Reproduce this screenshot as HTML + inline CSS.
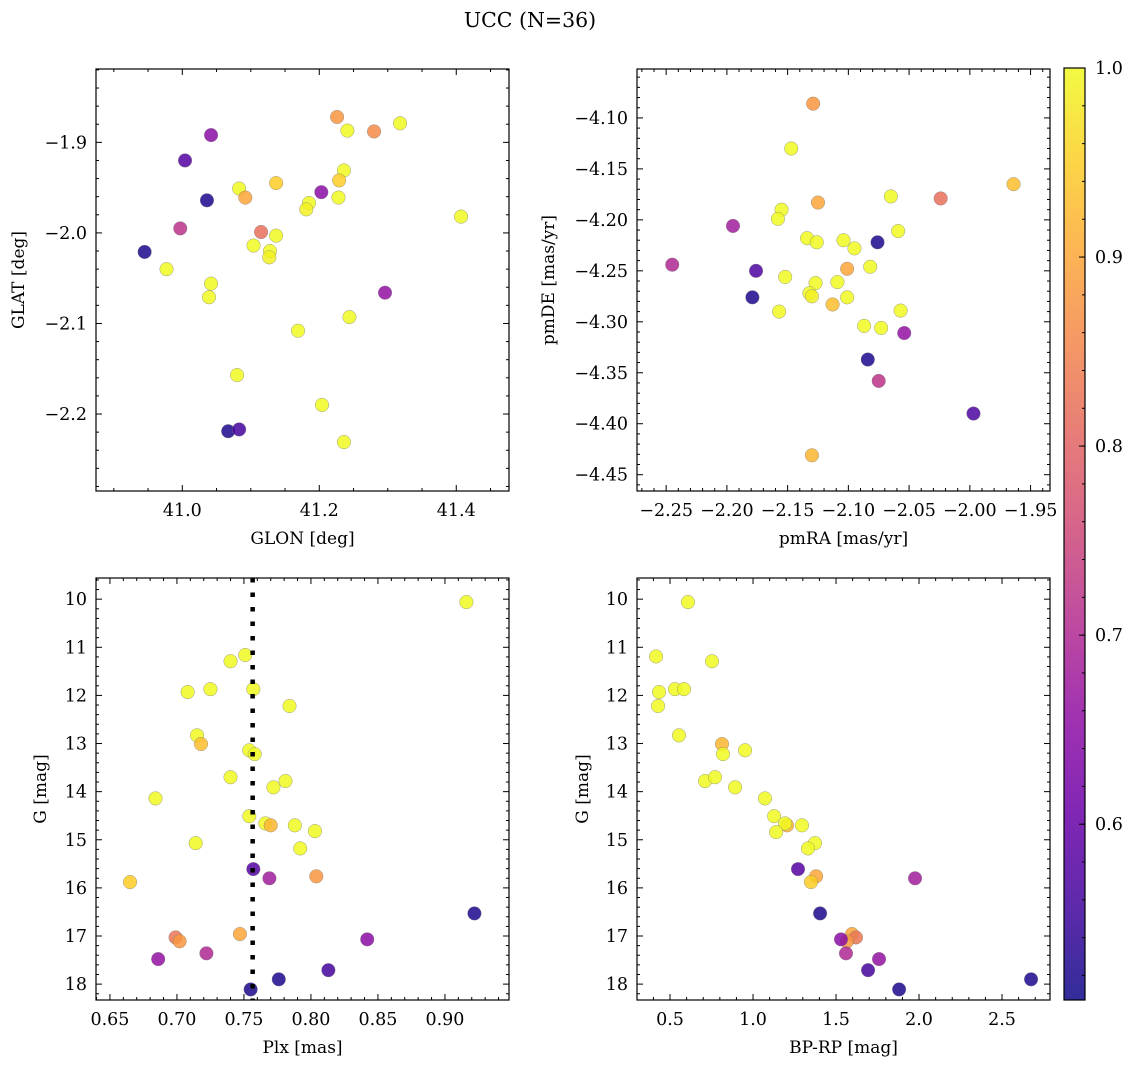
<!DOCTYPE html>
<html><head><meta charset="utf-8"><style>
html,body{margin:0;padding:0;background:#fff;}
svg{display:block;font-family:"DejaVu Serif","Liberation Serif",serif;}
</style></head><body>
<svg id="fig" width="1136" height="1068" viewBox="0 0 1136 1068" xmlns="http://www.w3.org/2000/svg">
<defs><linearGradient id="cbgrad" x1="0" y1="1" x2="0" y2="0"></linearGradient></defs>
<text x="530" y="27" font-size="20.5" text-anchor="middle">UCC (N=36)</text>
</svg>
<script>
// ---- data ----
const glon = [41.226,41.241,41.280,41.318,41.042,41.004,41.236,41.229,41.137,41.083,41.092,41.203,41.228,41.036,41.185,41.181,41.407,40.997,41.115,41.137,41.104,41.128,41.127,40.945,40.977,41.042,41.039,41.296,41.244,41.169,41.080,41.204,41.067,41.083,41.236];
const glat = [-1.872,-1.887,-1.888,-1.879,-1.892,-1.920,-1.931,-1.942,-1.945,-1.951,-1.961,-1.955,-1.961,-1.964,-1.967,-1.974,-1.982,-1.995,-1.999,-2.003,-2.014,-2.020,-2.027,-2.021,-2.040,-2.056,-2.071,-2.066,-2.093,-2.108,-2.157,-2.190,-2.219,-2.217,-2.231];
const probPos = [0.88,1,0.86,1,0.65,0.58,1,0.95,0.95,1,0.9,0.65,1,0.52,1,0.99,1,0.72,0.82,1,1,1,0.99,0.52,1,1,1,0.66,1,1,1,1,0.52,0.56,1];

const pmra = [-2.129,-2.147,-1.964,-2.065,-2.024,-2.125,-2.155,-2.158,-2.195,-2.059,-2.134,-2.126,-2.104,-2.095,-2.076,-2.245,-2.176,-2.101,-2.082,-2.152,-2.127,-2.109,-2.179,-2.132,-2.130,-2.101,-2.113,-2.157,-2.057,-2.087,-2.073,-2.054,-2.084,-2.075,-1.997,-2.130];
const pmde = [-4.086,-4.130,-4.165,-4.177,-4.179,-4.183,-4.190,-4.199,-4.206,-4.211,-4.218,-4.222,-4.220,-4.228,-4.222,-4.244,-4.250,-4.248,-4.246,-4.256,-4.262,-4.261,-4.276,-4.272,-4.275,-4.276,-4.283,-4.290,-4.289,-4.304,-4.306,-4.311,-4.337,-4.358,-4.390,-4.431];
const probPm = [0.88,1,0.93,1,0.82,0.9,1,1,0.68,1,1,1,1,1,0.52,0.7,0.57,0.9,1,1,1,1,0.52,1,0.99,1,0.93,1,1,1,1,0.66,0.52,0.72,0.57,0.92];

const plx = [0.916,0.751,0.740,0.725,0.708,0.757,0.784,0.715,0.718,0.754,0.758,0.740,0.781,0.772,0.684,0.754,0.766,0.770,0.788,0.803,0.714,0.792,0.757,0.769,0.804,0.665,0.922,0.747,0.699,0.702,0.842,0.722,0.686,0.813,0.776,0.755];
const gmag = [10.06,11.16,11.29,11.87,11.93,11.87,12.22,12.83,13.01,13.14,13.22,13.70,13.78,13.91,14.14,14.51,14.66,14.70,14.70,14.82,15.07,15.18,15.61,15.80,15.76,15.88,16.53,16.96,17.03,17.11,17.07,17.36,17.48,17.71,17.90,18.11];
const probPlx = [1,1,1,1,1,1,1,1,0.93,1,1,1,1,1,1,1,1,0.92,1,1,1,1,0.58,0.68,0.88,0.95,0.52,0.9,0.83,0.88,0.65,0.7,0.66,0.56,0.52,0.52];
const plxMedian = 0.7565;

const bprp = [0.608,0.416,0.753,0.434,0.530,0.584,0.428,0.554,0.813,0.819,0.952,0.711,0.771,0.892,1.072,1.127,1.205,1.193,1.295,1.139,1.373,1.331,1.271,1.380,1.349,1.976,1.404,1.596,1.620,1.566,1.530,1.560,1.759,1.693,2.675,1.880];
const gmag2 = [10.06,11.19,11.29,11.93,11.87,11.87,12.22,12.83,13.01,13.22,13.14,13.78,13.70,13.91,14.14,14.51,14.70,14.66,14.70,14.84,15.07,15.18,15.61,15.76,15.88,15.80,16.53,16.96,17.03,17.11,17.07,17.36,17.48,17.71,17.90,18.11];
const probCmd = [1,1,1,1,1,1,1,1,0.92,1,1,1,1,1,1,1,0.92,1,1,1,1,1,0.58,0.9,0.95,0.68,0.52,0.9,0.83,0.88,0.65,0.7,0.66,0.56,0.52,0.52];

const cbTicks = [0.6,0.7,0.8,0.9,1.0];
const VMIN = 0.507, VMAX = 1.0;

// ---- helpers ----
const NS = "http://www.w3.org/2000/svg";
const svg = document.getElementById('fig');
const FS = 17.5;
function mk(tag, attrs, parent){
  const e = document.createElementNS(NS, tag);
  for (const k in attrs) e.setAttribute(k, attrs[k]);
  (parent||svg).appendChild(e);
  return e;
}
const plasma = [[0,13,8,135],[0.1,65,4,157],[0.2,106,0,168],[0.3,143,13,164],[0.4,177,42,144],[0.5,204,71,120],[0.6,225,100,98],[0.7,242,132,75],[0.8,252,166,54],[0.9,252,206,37],[1,240,249,33]];
function cmap(t){
  t = Math.max(0, Math.min(1, t));
  for (let i=1;i<plasma.length;i++){
    if (t <= plasma[i][0]){
      const a = plasma[i-1], b = plasma[i], f = (t-a[0])/(b[0]-a[0]);
      return `rgb(${Math.round(a[1]+f*(b[1]-a[1]))},${Math.round(a[2]+f*(b[2]-a[2]))},${Math.round(a[3]+f*(b[3]-a[3]))})`;
    }
  }
  return 'rgb(240,249,33)';
}
function colorOf(p){ return cmap((p-VMIN)/(VMAX-VMIN)); }
function fmt(v, dec){ const s = v.toFixed(dec); return s.replace('-', '\u2212'); }

function panel(cfg){
  const g = mk('g', {});
  
  
  const L=cfg.x0, R=cfg.x1, T=cfg.y0, B=cfg.y1;
  const sx = v => L + (v-cfg.xmin)/(cfg.xmax-cfg.xmin)*(R-L);
  const sy = cfg.yinv ? (v => T + (v-cfg.ymin)/(cfg.ymax-cfg.ymin)*(B-T))
                      : (v => B - (v-cfg.ymin)/(cfg.ymax-cfg.ymin)*(B-T));
  const pts = mk('g', {}, g);
  
  
  for (let i=0;i<cfg.xs.length;i++){
    const c = mk('circle', {cx:sx(cfg.xs[i]), cy:sy(cfg.ys[i]), r:6.8, fill:colorOf(cfg.ps[i]), 'fill-opacity':0.85, stroke:'#777', 'stroke-width':0.5, 'stroke-opacity':0.7}, pts);
    
    
  }
  if (cfg.vline !== undefined){
    const vl = mk('line', {x1:sx(cfg.vline), x2:sx(cfg.vline), y1:T, y2:B, stroke:'#000', 'stroke-width':4.5, 'stroke-dasharray':'4.5 10'}, g);
    
    
  }
  const fr = mk('rect', {x:L, y:T, width:R-L, height:B-T, fill:'none', stroke:'#000', 'stroke-width':1.2}, g);
  
  
  const tk = mk('g', {stroke:'#000', 'stroke-width':1}, g);
  const eps = 1e-9;
  const xstart = Math.ceil(cfg.xmin/cfg.xminor - eps)*cfg.xminor;
  for (let v=xstart; v<=cfg.xmax+eps; v+=cfg.xminor){
    const isMaj = Math.abs(v/cfg.xmajor - Math.round(v/cfg.xmajor)) < 1e-4;
    const len = isMaj ? 6 : 3, X = sx(v);
    mk('line',{x1:X,x2:X,y1:B,y2:B-len},tk); mk('line',{x1:X,x2:X,y1:T,y2:T+len},tk);
    if (isMaj){
      const t = mk('text',{x:X, y:B+25, 'font-size':FS, 'text-anchor':'middle', stroke:'none', fill:'#000'}, g);
      t.textContent = fmt(v, cfg.xdec);
      
      
    }
  }
  const ystart = Math.ceil(cfg.ymin/cfg.yminor - eps)*cfg.yminor;
  for (let v=ystart; v<=cfg.ymax+eps; v+=cfg.yminor){
    const isMaj = Math.abs(v/cfg.ymajor - Math.round(v/cfg.ymajor)) < 1e-4;
    const len = isMaj ? 6 : 3, Y = sy(v);
    mk('line',{x1:L,x2:L+len,y1:Y,y2:Y},tk); mk('line',{x1:R,x2:R-len,y1:Y,y2:Y},tk);
    if (isMaj){
      const t = mk('text',{x:L-9, y:Y+6, 'font-size':FS, 'text-anchor':'end', stroke:'none', fill:'#000'}, g);
      t.textContent = fmt(v, cfg.ydec);
      
      
    }
  }
  const xl = mk('text',{x:(L+R)/2, y:B+53, 'font-size':17, 'text-anchor':'middle'}, g);
  xl.textContent = cfg.xlabel;
  
  
  const yl = mk('text',{x:0, y:0, 'font-size':17, 'text-anchor':'middle', transform:`translate(${cfg.ylx},${(T+B)/2}) rotate(-90)`}, g);
  yl.textContent = cfg.ylabel;
  
  
}

panel({name:'glon-glat-panel', x0:96,x1:509,y0:69,y1:491, xmin:40.874,xmax:41.477, ymin:-2.285,ymax:-1.819,
  xs:glon, ys:glat, ps:probPos, xmajor:0.2,xminor:0.05,xdec:1, ymajor:0.1,yminor:0.02,ydec:1,
  xlabel:'GLON [deg]', ylabel:'GLAT [deg]', ylx:24});
panel({name:'proper-motion-panel', x0:637,x1:1050,y0:69,y1:491, xmin:-2.274,xmax:-1.934, ymin:-4.466,ymax:-4.052,
  xs:pmra, ys:pmde, ps:probPm, xmajor:0.05,xminor:0.01,xdec:2, ymajor:0.05,yminor:0.01,ydec:2,
  xlabel:'pmRA [mas/yr]', ylabel:'pmDE [mas/yr]', ylx:554});
panel({name:'plx-g-panel', x0:96,x1:509,y0:578,y1:1000, xmin:0.6396,xmax:0.9478, ymin:9.56,ymax:18.33, yinv:true,
  xs:plx, ys:gmag, ps:probPlx, xmajor:0.05,xminor:0.01,xdec:2, ymajor:1,yminor:0.2,ydec:0,
  xlabel:'Plx [mas]', ylabel:'G [mag]', ylx:46, vline:plxMedian});
panel({name:'cmd-panel', x0:637,x1:1050,y0:578,y1:1000, xmin:0.301,xmax:2.789, ymin:9.56,ymax:18.33, yinv:true,
  xs:bprp, ys:gmag2, ps:probCmd, xmajor:0.5,xminor:0.1,xdec:1, ymajor:1,yminor:0.2,ydec:0,
  xlabel:'BP-RP [mag]', ylabel:'G [mag]', ylx:588});

// colorbar
const grad = document.getElementById('cbgrad');
for (let i=0;i<=20;i++){
  mk('stop', {offset: (i/20), 'stop-color': cmap(i/20), 'stop-opacity':0.85}, grad);
}
const cb = mk('g', {});


const CBL=1064, CBR=1085, CBT=68, CBB=1000;
const cy = v => CBB - (v-VMIN)/(VMAX-VMIN)*(CBB-CBT);
mk('rect', {x:CBL, y:CBT, width:CBR-CBL, height:CBB-CBT, fill:'url(#cbgrad)', stroke:'#000', 'stroke-width':1.2}, cb);
for (let v=0.52; v<=1.0001; v+=0.02){
  const Y = cy(v);
  mk('line', {x1:CBR, x2:CBR-3, y1:Y, y2:Y, stroke:'#000', 'stroke-width':1}, cb);
}
for (const v of cbTicks){
  const Y = cy(v);
  mk('line', {x1:CBR, x2:CBR-6, y1:Y, y2:Y, stroke:'#000', 'stroke-width':1}, cb);
  const t = mk('text', {x:CBR+10, y:Y+6, 'font-size':FS}, cb);
  t.textContent = v.toFixed(1);
  
  
}
</script>
</body></html>
